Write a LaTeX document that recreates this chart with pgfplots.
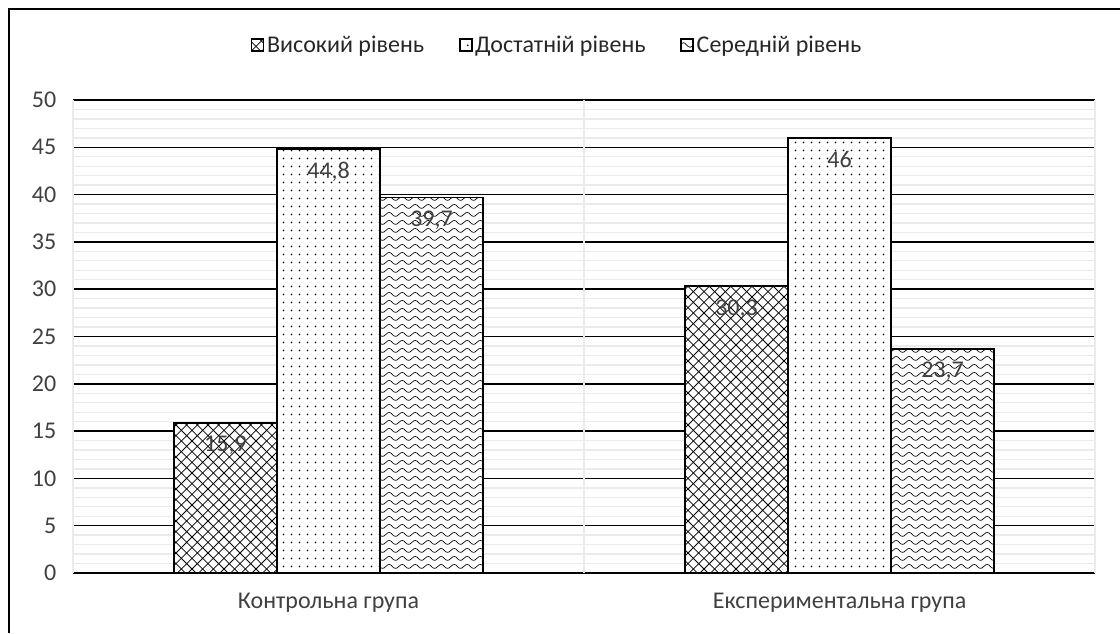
\documentclass[border=0pt]{standalone}
\usepackage{pgfplots}
\pgfplotsset{compat=1.18}
\usepackage{fontspec}
\setmainfont{Carlito}
\usetikzlibrary{patterns}

\pgfdeclarepatternformonly{bigcross}{\pgfqpoint{-0.5pt}{-0.5pt}}{\pgfqpoint{8.5pt}{8.5pt}}{\pgfqpoint{8pt}{8pt}}{%
  \pgfsetlinewidth{0.6pt}%
  \pgfpathmoveto{\pgfqpoint{0pt}{0pt}}\pgfpathlineto{\pgfqpoint{8pt}{8pt}}%
  \pgfpathmoveto{\pgfqpoint{0pt}{8pt}}\pgfpathlineto{\pgfqpoint{8pt}{0pt}}%
  \pgfusepath{stroke}}
\pgfdeclarepatternformonly{sparsedots}{\pgfqpoint{0pt}{0pt}}{\pgfqpoint{6pt}{6pt}}{\pgfqpoint{6pt}{6pt}}{%
  \pgfpathcircle{\pgfqpoint{3pt}{3pt}}{0.75pt}%
  \pgfusepath{fill}}
\pgfdeclarepatternformonly{waves}{\pgfqpoint{0pt}{0pt}}{\pgfqpoint{10pt}{6pt}}{\pgfqpoint{10pt}{6pt}}{%
  \pgfsetlinewidth{0.55pt}%
  \pgfpathmoveto{\pgfqpoint{0pt}{3pt}}%
  \pgfpathcurveto{\pgfqpoint{1.7pt}{5.2pt}}{\pgfqpoint{3.3pt}{5.2pt}}{\pgfqpoint{5pt}{3pt}}%
  \pgfpathcurveto{\pgfqpoint{6.7pt}{0.8pt}}{\pgfqpoint{8.3pt}{0.8pt}}{\pgfqpoint{10pt}{3pt}}%
  \pgfusepath{stroke}}

\begin{document}
\begin{tikzpicture}
\useasboundingbox (0,0) rectangle (840pt,474.75pt);
\draw[line width=1.5pt] (6.75pt,0) -- (6.75pt,468pt) -- (840pt,468pt);
\begin{axis}[
  at={(54.75pt,45pt)}, anchor=south west,
  scale only axis, width=766.5pt, height=354.75pt,
  font=\fontsize{18}{21}\selectfont,
  ybar, bar width=0.2016,
  xmin=-0.5, xmax=1.5, ymin=0, ymax=50,
  xtick={0,1}, xticklabels={Контрольна група, Експериментальна група},
  ytick={0,5,...,50}, minor y tick num=4,
  ymajorgrids, yminorgrids,
  major grid style={black, line width=1.1pt},
  minor grid style={black!8, line width=1pt},
  extra x ticks={-0.5,0.5,1.5}, extra x tick labels={},
  extra x tick style={grid=major, major grid style={black!8, line width=1pt}},
  axis line style={draw=none}, tick style={draw=none},
  /pgf/number format/assume math mode=true,
  /pgf/number format/use comma,
  ticklabel style={text=black!75},
  yticklabel style={xshift=-9pt},
  xticklabel style={yshift=-7pt},
  nodes near coords,
  every node near coord/.append style={anchor=north, yshift=-6pt, text=black!75, font=\fontsize{18}{21}\selectfont},
  legend columns=3,
  legend style={at={(0.474,1.116)}, anchor=center, draw=none, fill=none,
    /tikz/every even column/.append style={column sep=24pt}, text=black!85},
  legend image code/.code={\draw[#1, line width=1.3pt] (0pt,-4.5pt) rectangle (9pt,4.5pt);},
]
\addplot[bar shift=-0.2016, draw=black, line width=1.4pt, fill=white, postaction={pattern=bigcross}]
  coordinates {(0,15.9) (1,30.3)};
\addplot[bar shift=0, draw=black, line width=1.4pt, fill=white, postaction={pattern=sparsedots}]
  coordinates {(0,44.8) (1,46)};
\addplot[bar shift=0.2016, draw=black, line width=1.4pt, fill=white, postaction={pattern=waves}]
  coordinates {(0,39.7) (1,23.7)};
\legend{Високий рівень, Достатній рівень, Середній рівень}
\end{axis}
\end{tikzpicture}
\end{document}
